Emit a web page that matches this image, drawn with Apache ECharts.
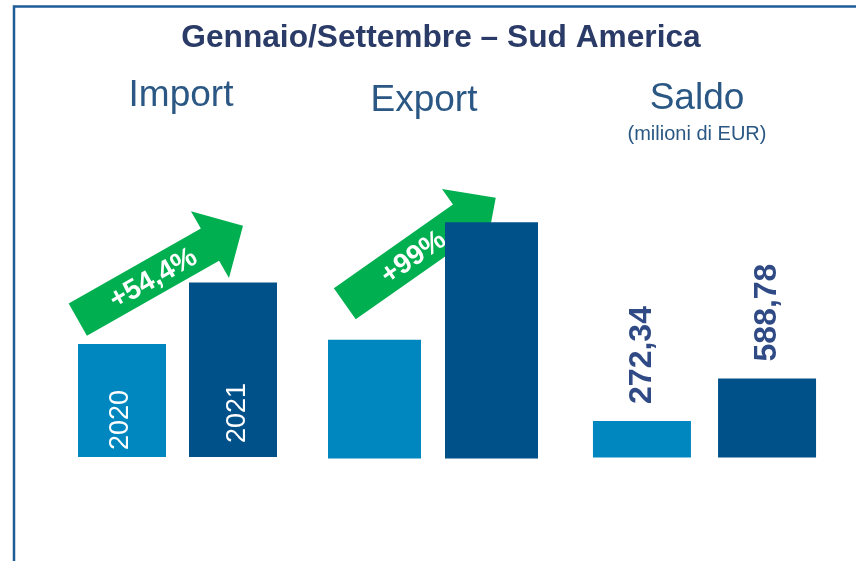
<!DOCTYPE html>
<html>
<head>
<meta charset="utf-8">
<style>
  html, body { margin: 0; padding: 0; background: #ffffff; }
  #chart { width: 856px; height: 561px; }
</style>
<script src="https://cdn.jsdelivr.net/npm/echarts@6/dist/echarts.min.js"></script>
</head>
<body>
<div id="chart"></div>
<script>
// Gennaio/Settembre – Sud America: import, export (2020 = 100) and trade balance
const years = ['2020', '2021'];
const importIndex = [100, 154.4];
const exportIndex = [100, 199];
const saldo = [272.34, 588.78];          // milioni di EUR
const groupNames = ['Import', 'Export', 'Saldo'];
const growthLabels = ['+54,4%', '+99%'];

const FONT = '"Liberation Sans", Arial, Helvetica, sans-serif';
const C2020 = '#0087C0';
const C2021 = '#00518A';
const HEAD = '#2A5783';
const TITLE = '#2B3B67';
const VALUE = '#2F4A85';
const GREEN = '#00B050';
const FRAME = '#1F5C98';

// One panel per group: grid placement, value-axis maximum and bar width
const panels = [
  { left: 66.5, width: 222, bottom: 104, top: 118, max: 300, barWidth: 88 },
  { left: 316, width: 234, bottom: 102.5, top: 102.4, max: 300, barWidth: 93 },
  { left: 579.4, width: 250.2, bottom: 103.5, top: 189, max: 2000, barWidth: 98 }
];

const chart = echarts.init(document.getElementById('chart'), null, { renderer: 'canvas' });

function barItems(values, labelFor) {
  return values.map((v, i) => {
    const item = { value: v, itemStyle: { color: i === 0 ? C2020 : C2021 } };
    if (labelFor) item.label = labelFor(i);
    return item;
  });
}

// Growth arrow built in local coordinates, then rotated into place
function arrow(cx, cy, angleDeg, len, shaftW, headW, headL, text) {
  const b = len - headL;
  return {
    type: 'group',
    x: cx, y: cy,
    rotation: angleDeg * Math.PI / 180,
    children: [
      {
        type: 'polygon',
        shape: {
          points: [
            [0, -shaftW / 2], [b, -shaftW / 2], [b, -headW / 2], [len, 0],
            [b, headW / 2], [b, shaftW / 2], [0, shaftW / 2]
          ]
        },
        style: { fill: GREEN }
      },
      {
        type: 'text',
        x: (len - headL) / 2 + 10, y: 2,
        style: {
          text: text, fill: '#ffffff', font: 'bold 28px ' + FONT,
          align: 'center', verticalAlign: 'middle'
        }
      }
    ]
  };
}

const option = {
  backgroundColor: '#ffffff',
  animation: false,
  grid: panels.map(p => ({ left: p.left, width: p.width, bottom: p.bottom, top: p.top })),
  xAxis: panels.map((p, i) => ({
    type: 'category', gridIndex: i, data: years, show: false
  })),
  yAxis: panels.map((p, i) => ({
    type: 'value', gridIndex: i, min: 0, max: p.max, show: false
  })),
  series: [
    {
      type: 'bar', xAxisIndex: 0, yAxisIndex: 0, barWidth: panels[0].barWidth,
      data: barItems(importIndex, i => ({
        show: true, position: 'insideBottom', distance: i === 0 ? 7 : 14,
        offset: [0, i === 0 ? -1 : 5],
        rotate: 90, align: 'left', verticalAlign: 'middle',
        formatter: years[i], color: '#ffffff', fontSize: 27, fontFamily: FONT
      }))
    },
    {
      type: 'bar', xAxisIndex: 1, yAxisIndex: 1, barWidth: panels[1].barWidth,
      data: barItems(exportIndex)
    },
    {
      type: 'bar', xAxisIndex: 2, yAxisIndex: 2, barWidth: panels[2].barWidth,
      data: barItems(saldo),
      label: {
        show: true, position: 'top', distance: 17, rotate: 90,
        align: 'left', verticalAlign: 'middle',
        formatter: p => p.value.toFixed(2).replace('.', ','),
        color: VALUE, fontSize: 32, fontWeight: 'bold', fontFamily: FONT
      }
    }
  ],
  graphic: [
    // frame
    {
      type: 'polyline', silent: true,
      shape: { points: [[14, 561], [14, 6.5], [856, 6.5]] },
      style: { stroke: FRAME, lineWidth: 2.5, fill: null }
    },
    {
      type: 'text', x: 441, y: 38,
      style: {
        text: 'Gennaio/Settembre – Sud America', fill: TITLE,
        font: 'bold 31.7px ' + FONT, align: 'center', verticalAlign: 'middle'
      }
    },
    {
      type: 'text', x: 181, y: 96,
      style: { text: groupNames[0], fill: HEAD, font: '37px ' + FONT, align: 'center', verticalAlign: 'middle' }
    },
    {
      type: 'text', x: 424, y: 100.5,
      style: { text: groupNames[1], fill: HEAD, font: '37px ' + FONT, align: 'center', verticalAlign: 'middle' }
    },
    {
      type: 'text', x: 697, y: 98.5,
      style: { text: groupNames[2], fill: HEAD, font: '37px ' + FONT, align: 'center', verticalAlign: 'middle' }
    },
    {
      type: 'text', x: 697, y: 134,
      style: { text: '(milioni di EUR)', fill: HEAD, font: '20px ' + FONT, align: 'center', verticalAlign: 'middle' }
    },
    arrow(77.8, 319.7, 29.6, 190, 37, 77, 38, growthLabels[0]),
    arrow(344.8, 303.8, 35.1, 184.5, 38, 76, 39, growthLabels[1])
  ]
};

chart.setOption(option);
</script>
</body>
</html>
